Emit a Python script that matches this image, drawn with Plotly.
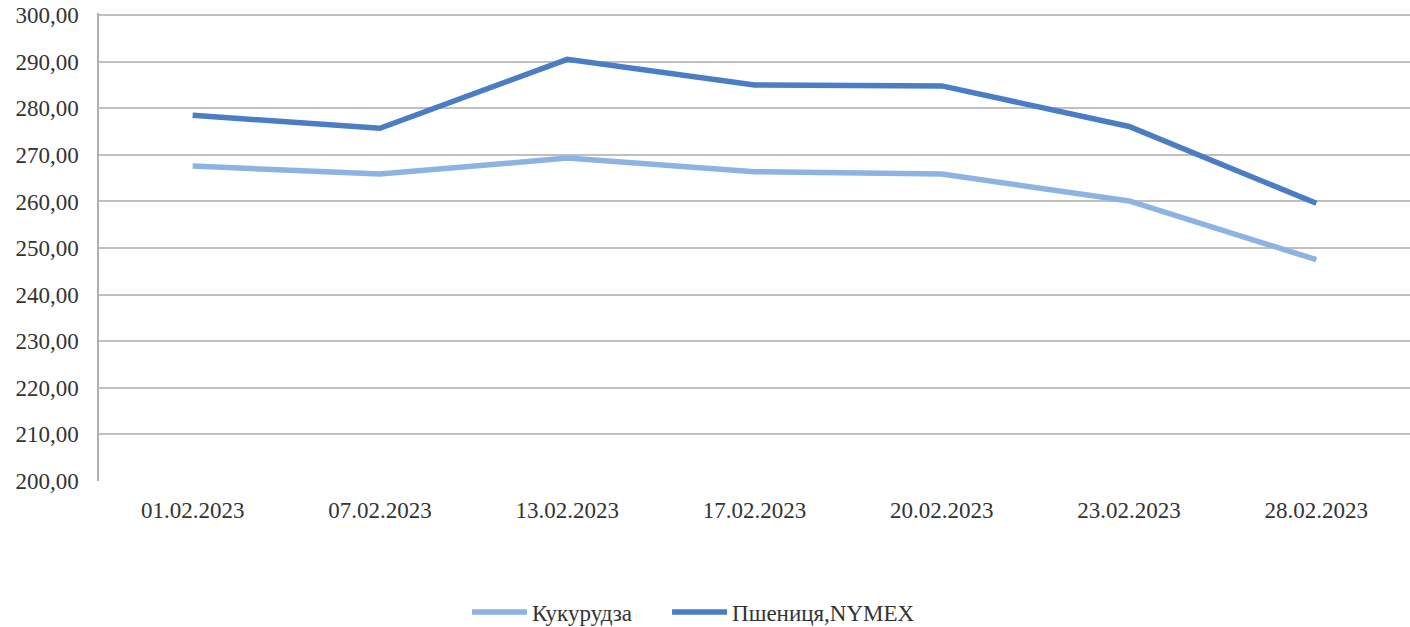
import plotly.graph_objects as go

dates = ["01.02.2023", "07.02.2023", "13.02.2023", "17.02.2023", "20.02.2023", "23.02.2023", "28.02.2023"]
corn = [267.6, 265.9, 269.3, 266.4, 265.9, 260.1, 247.5]
wheat = [278.5, 275.7, 290.5, 285.0, 284.8, 276.1, 259.6]
y_ticks = [200, 210, 220, 230, 240, 250, 260, 270, 280, 290, 300]

font_family = "Liberation Serif"
font_color = "#333333"
legend_font = dict(family=font_family, size=23, color=font_color)

fig = go.Figure()
fig.add_trace(go.Scatter(x=dates, y=corn, mode="lines", name="Кукурудза",
                         line=dict(color="#8DB3E2", width=5.5), legend="legend"))
fig.add_trace(go.Scatter(x=dates, y=wheat, mode="lines", name="Пшениця,NYMEX",
                         line=dict(color="#4A7DC4", width=5.5), legend="legend2"))

fig.update_layout(
    width=1410, height=627,
    margin=dict(l=99, r=0, t=13, b=146, autoexpand=False),
    paper_bgcolor="white", plot_bgcolor="white",
    separators=", ",
    font=dict(family=font_family, size=23, color=font_color),
    showlegend=True,
    legend=dict(orientation="h", x=0.2807, xanchor="left", y=-0.28, yanchor="middle",
                font=legend_font, itemwidth=55),
    legend2=dict(orientation="h", x=0.4333, xanchor="left", y=-0.28, yanchor="middle",
                 font=legend_font, itemwidth=55),
)
fig.update_xaxes(type="category", range=[-0.5, 6.5], showgrid=False, automargin=False,
                 showline=False, ticks="", ticklabelstandoff=13,
                 tickfont=dict(family=font_family, size=23, color=font_color))
fig.update_yaxes(range=[200, 300.45], tickvals=y_ticks, tickformat=".2f", automargin=False,
                 showgrid=True, gridcolor="#C0C0C0", gridwidth=1.5,
                 showline=True, linecolor="#B0B0B0", linewidth=1.5,
                 zeroline=False, ticks="", ticklabelstandoff=14,
                 ticklabeloverflow="allow",
                 tickfont=dict(family=font_family, size=23, color=font_color))

fig.write_html("out.html", config={"displayModeBar": False},
               post_script="document.body.style.margin='0';document.body.style.overflow='hidden';")
